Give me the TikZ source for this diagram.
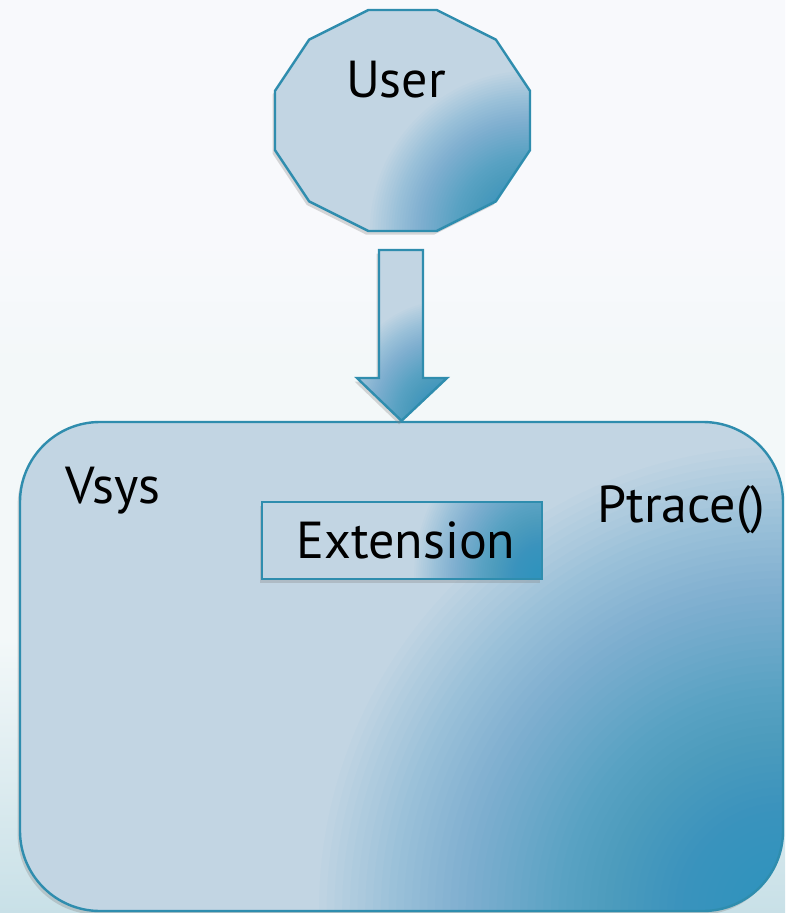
\documentclass[tikz,border=0pt]{standalone}
\usepackage{fontspec}
\setmainfont{PT Sans}
\usepackage{tikz}
\usetikzlibrary{shadows}
\definecolor{Edge}{HTML}{2F8DAE}
\definecolor{Pale}{HTML}{C2D5E3}
\definecolor{Deep}{HTML}{3093BD}
\definecolor{BgTop}{HTML}{F8F9FC}
\definecolor{BgLow}{HTML}{F3F8F9}
\definecolor{BgBottom}{HTML}{C8E0E7}
\pgfdeclareverticalshading{backdrop}{100bp}{color(0bp)=(BgBottom); color(25bp)=(BgBottom); color(40bp)=(BgLow); color(55bp)=(BgLow); color(62bp)=(BgTop); color(100bp)=(BgTop)}
\tikzset{
  glow/.style 2 args={path picture={
    \foreach \k in {1,...,60}{
      \pgfmathsetmacro\op{1-((60.5-\k)/(61.5-\k))^1.4}
      \pgfmathsetmacro\sc{(61-\k)/60}
      \fill[Deep,fill opacity=\op] (path picture bounding box.south east) ellipse [x radius={#1*\sc}, y radius={#2*\sc}];
    }}},
  castshadow/.style={drop shadow={opacity=0.3,shadow xshift=-1.2pt,shadow yshift=-1.8pt}},
  panel/.style={draw=Edge,line width=1.2pt,fill=Pale,castshadow},
  sysbox/.style={panel,rounded corners=40pt,minimum width=381.5pt,minimum height=244.5pt,glow={232pt}{232pt}},
  extbox/.style={panel,minimum width=140pt,minimum height=38.5pt,inner sep=0pt,glow={64pt}{78pt},font=\fontsize{26}{30}\selectfont},
  word/.style={font=\fontsize{26}{30}\selectfont,inner sep=0pt}
}
\begin{document}
\begin{tikzpicture}[x=0.5pt,y=-0.5pt]
  \useasboundingbox (0,0) rectangle (785,913);
  \shade[shading=backdrop] (0,0) rectangle (785,913);
  \node[sysbox] (vsys) at (401.5,666.5) {};
  \node[extbox] (ext) at (402,540.5) {\hspace{4pt}Extension};
  \node[word,anchor=base west] (vsyslbl) at (65,503) {Vsys};
  \node[word,anchor=base west] (ptrace) at (597,522) {Ptrace()};
  \draw[panel,glow={80pt}{80pt}] plot[samples at={15,45,...,345}] ({402.5+132*cos(\x)},{120.5+114.4*sin(\x)}) -- cycle;
  \node[word,anchor=base] (user) at (396,98) {User};
  \draw[panel,glow={55pt}{60pt}] (379,250) -- (423,250) -- (423,378) -- (447,378) -- (vsys.north) -- (357,378) -- (379,378) -- cycle;
\end{tikzpicture}
\end{document}
